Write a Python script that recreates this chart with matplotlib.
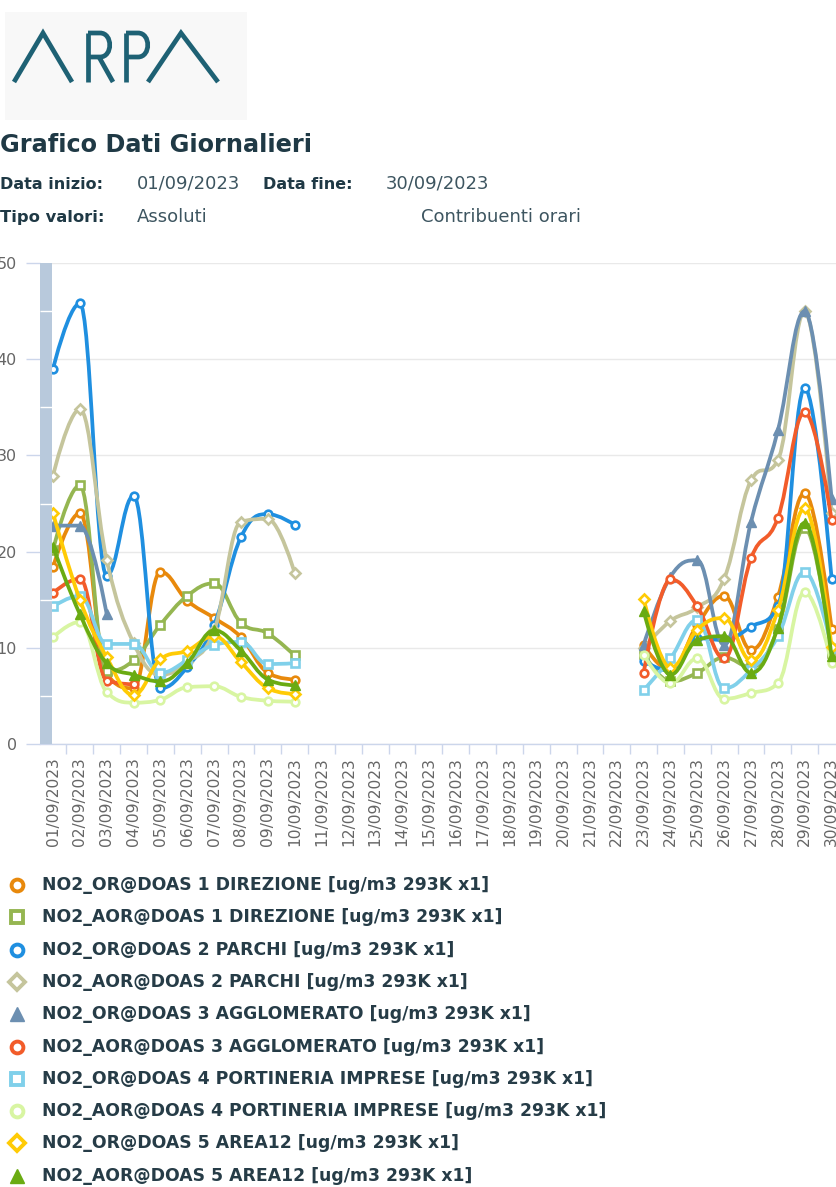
import matplotlib
matplotlib.use("Agg")
import matplotlib.pyplot as plt
import numpy as np
from matplotlib.path import Path
from matplotlib.patches import PathPatch, Rectangle

plt.rcParams['font.family'] = ['DejaVu Sans']

N = None
days = [f"{d:02d}/09/2023" for d in range(1, 31)]
gap = [N] * 12

no2_or_doas1 = [18.4, 24.0, 7.3, 5.8, 17.9, 14.9, 13.1, 11.1, 7.4, 6.7] + gap + [10.3, 7.6, 12.4, 15.4, 9.8, 15.3, 26.1, 12.0]
no2_aor_doas1 = [20.2, 26.9, 7.6, 8.7, 12.4, 15.4, 16.7, 12.6, 11.5, 9.2] + gap + [9.4, 6.5, 7.4, 9.0, 8.0, 12.0, 22.5, 9.5]
no2_or_doas2 = [39.0, 45.8, 17.5, 25.8, 5.8, 8.0, 12.4, 21.5, 23.9, 22.8] + gap + [8.6, 7.6, 11.0, 10.8, 12.2, 14.3, 37.0, 17.2]
no2_aor_doas2 = [27.9, 34.8, 19.1, 10.5, 7.2, 8.5, 11.8, 23.1, 23.4, 17.8] + gap + [10.0, 12.8, 14.2, 17.2, 27.4, 29.5, 45.0, 24.0]
no2_or_doas3 = [22.7, 22.7, 13.5, N, N, N, N, N, N, N] + gap + [10.3, 17.4, 19.1, 10.3, 23.1, 32.6, 45.0, 25.5]
no2_aor_doas3 = [15.7, 17.2, 6.6, 6.2, N, N, N, N, N, N] + gap + [7.4, 17.1, 14.3, 8.9, 19.3, 23.5, 34.5, 23.3]
no2_or_doas4 = [14.3, 15.4, 10.4, 10.4, 7.4, 8.7, 10.3, 10.6, 8.3, 8.4] + gap + [5.6, 8.9, 12.9, 5.8, 7.7, 11.2, 17.9, 10.0]
no2_aor_doas4 = [11.1, 12.7, 5.4, 4.3, 4.6, 5.9, 6.0, 4.9, 4.5, 4.4] + gap + [9.3, 6.3, 8.9, 4.7, 5.3, 6.3, 15.8, 8.4]
no2_or_doas5 = [24.0, 15.0, 9.0, 5.1, 8.8, 9.7, 11.2, 8.5, 5.8, 5.2] + gap + [15.1, 7.9, 11.9, 13.1, 8.7, 13.9, 24.5, 10.1]
no2_aor_doas5 = [20.5, 13.5, 8.4, 7.2, 6.5, 8.4, 11.8, 9.7, 6.7, 6.1] + gap + [13.8, 7.2, 10.8, 11.2, 7.4, 12.1, 23.0, 9.1]

series_names = [
    "NO2_OR@DOAS 1 DIREZIONE [ug/m3 293K x1]",
    "NO2_AOR@DOAS 1 DIREZIONE [ug/m3 293K x1]",
    "NO2_OR@DOAS 2 PARCHI [ug/m3 293K x1]",
    "NO2_AOR@DOAS 2 PARCHI [ug/m3 293K x1]",
    "NO2_OR@DOAS 3 AGGLOMERATO [ug/m3 293K x1]",
    "NO2_AOR@DOAS 3 AGGLOMERATO [ug/m3 293K x1]",
    "NO2_OR@DOAS 4 PORTINERIA IMPRESE [ug/m3 293K x1]",
    "NO2_AOR@DOAS 4 PORTINERIA IMPRESE [ug/m3 293K x1]",
    "NO2_OR@DOAS 5 AREA12 [ug/m3 293K x1]",
    "NO2_AOR@DOAS 5 AREA12 [ug/m3 293K x1]",
]
series_values = [no2_or_doas1, no2_aor_doas1, no2_or_doas2, no2_aor_doas2, no2_or_doas3,
                 no2_aor_doas3, no2_or_doas4, no2_aor_doas4, no2_or_doas5, no2_aor_doas5]
colors = ['#e8890c', '#95b651', '#1f8fe0', '#c5c59c', '#6c8fb1',
          '#f25c2a', '#80d0ea', '#d8f5a2', '#ffcb05', '#6aab12']
markers = ['o', 's', 'o', 'D', '^', 'o', 's', 'o', 'D', '^']
filled = [False, False, False, False, True, False, False, False, False, True]

y_ticks = [0, 10, 20, 30, 40, 50]


def spline_path(pts, smoothing=1.5):
    n = len(pts)
    left = [None] * n
    right = [None] * n
    den = smoothing + 1
    for i in range(1, n - 1):
        px, py = pts[i]
        lx, ly = pts[i - 1]
        nx, ny = pts[i + 1]
        lcx = (smoothing * px + lx) / den
        lcy = (smoothing * py + ly) / den
        rcx = (smoothing * px + nx) / den
        rcy = (smoothing * py + ny) / den
        corr = 0.0
        if rcx != lcx:
            corr = ((rcy - lcy) * (rcx - px)) / (rcx - lcx) + py - rcy
        lcy += corr
        rcy += corr
        if lcy > ly and lcy > py:
            lcy = max(ly, py); rcy = 2 * py - lcy
        elif lcy < ly and lcy < py:
            lcy = min(ly, py); rcy = 2 * py - lcy
        if rcy > ny and rcy > py:
            rcy = max(ny, py); lcy = 2 * py - rcy
        elif rcy < ny and rcy < py:
            rcy = min(ny, py); lcy = 2 * py - rcy
        left[i] = (lcx, lcy)
        right[i] = (rcx, rcy)
    verts = [pts[0]]
    codes = [Path.MOVETO]
    for i in range(1, n):
        c1 = right[i - 1] if right[i - 1] is not None else pts[i - 1]
        c2 = left[i] if left[i] is not None else pts[i]
        verts += [c1, c2, pts[i]]
        codes += [Path.CURVE4] * 3
    return Path(verts, codes)


W, H = 836, 1187
fig = plt.figure(figsize=(W / 100, H / 100), dpi=100)
fig.patch.set_facecolor('white')

# overlay in pixel coordinates for header / legend
ov = fig.add_axes([0, 0, 1, 1])
ov.set_xlim(0, W)
ov.set_ylim(H, 0)
ov.axis('off')

# logo
ov.add_patch(Rectangle((5, 12), 242, 108, facecolor='#f8f8f8', edgecolor='none'))
lc = '#1e6174'
lw_logo = 3.4
ov.plot([14, 43, 72], [82, 33, 82], color=lc, lw=lw_logo, solid_joinstyle='miter', solid_capstyle='butt')
ov.plot([88, 88], [82, 33], color=lc, lw=lw_logo, solid_capstyle='butt')
r_bowl = Path([(88, 33), (100, 33), (113, 33), (113, 57), (100, 57), (88, 57)],
              [Path.MOVETO, Path.LINETO, Path.CURVE4, Path.CURVE4, Path.CURVE4, Path.LINETO])
ov.add_patch(PathPatch(r_bowl, fill=False, edgecolor=lc, lw=lw_logo))
ov.plot([99, 113], [57, 82], color=lc, lw=lw_logo, solid_capstyle='butt')
ov.plot([126, 126], [82, 33], color=lc, lw=lw_logo, solid_capstyle='butt')
p_bowl = Path([(126, 33), (138, 33), (151, 33), (151, 57), (138, 57), (126, 57)],
              [Path.MOVETO, Path.LINETO, Path.CURVE4, Path.CURVE4, Path.CURVE4, Path.LINETO])
ov.add_patch(PathPatch(p_bowl, fill=False, edgecolor=lc, lw=lw_logo))
ov.plot([148, 181, 218], [82, 33, 82], color=lc, lw=lw_logo, solid_joinstyle='miter', solid_capstyle='butt')

# header
hdr = '#1f3945'
val = '#3d5560'
ov.text(0, 152, "Grafico Dati Giornalieri", fontsize=17.3, fontweight='bold', color=hdr, va='baseline')
ov.text(0, 189, "Data inizio:", fontsize=11.5, fontweight='bold', color=hdr, va='baseline')
ov.text(137, 189, "01/09/2023", fontsize=13, color=val, va='baseline')
ov.text(263, 189, "Data fine:", fontsize=11.5, fontweight='bold', color=hdr, va='baseline')
ov.text(386, 189, "30/09/2023", fontsize=13, color=val, va='baseline')
ov.text(0, 222, "Tipo valori:", fontsize=11.8, fontweight='bold', color=hdr, va='baseline')
ov.text(137, 222, "Assoluti", fontsize=13, color=val, va='baseline')
ov.text(421, 222, "Contribuenti orari", fontsize=13, color=val, va='baseline')

# legend
leg_y0, leg_dy = 885, 32.3
for i, name in enumerate(series_names):
    yy = leg_y0 + i * leg_dy
    if filled[i]:
        ov.plot([17], [yy], marker=markers[i], ms=10, color=colors[i], mec=colors[i], ls='none')
    else:
        ms = 8.5 if markers[i] != 'D' else 8
        ov.plot([17], [yy], marker=markers[i], ms=ms, mfc='white', mec=colors[i], mew=2.8, ls='none')
    ov.text(42, yy, name, fontsize=12.4, fontweight='bold', color='#263c47', va='center')

# main chart
left_px, right_px, top_px, bot_px = 39.6, 845.0, 263.0, 744.0
ax = fig.add_axes([left_px / W, 1 - bot_px / H, (right_px - left_px) / W, (bot_px - top_px) / H])
ax.set_xlim(-0.5, 29.5)
ax.set_ylim(0, 50)
ax.patch.set_alpha(0)

for s in ['top', 'right', 'left']:
    ax.spines[s].set_visible(False)
ax.spines['bottom'].set_color('#ccd6eb')
ax.spines['bottom'].set_linewidth(1)

ax.set_yticks(y_ticks)
ax.set_yticklabels([str(v) for v in y_ticks])
ax.yaxis.grid(True, color='#e9e9e9', lw=1)
ax.set_axisbelow(True)
ax.tick_params(axis='y', length=9.8, width=1, color='#ccd6eb', labelcolor='#666666', labelsize=11.5, pad=6.5)

x = np.arange(len(days))
ax.set_xticks(x)
ax.set_xticklabels(days, rotation=90, fontsize=11.2, color='#666666')
ax.tick_params(axis='x', which='major', length=0, pad=9.5)
ax.set_xticks(np.arange(0.5, 29.5, 1), minor=True)
ax.tick_params(axis='x', which='minor', length=7, width=1, color='#ccd6eb')

for i, vals in enumerate(series_values):
    segs, cur = [], []
    for xi, v in zip(x, vals):
        if v is None:
            if cur:
                segs.append(cur)
            cur = []
        else:
            cur.append((float(xi), float(v)))
    if cur:
        segs.append(cur)
    for seg in segs:
        if len(seg) > 1:
            ax.add_patch(PathPatch(spline_path(seg), fill=False, edgecolor=colors[i], lw=2.7,
                                   capstyle='round', joinstyle='round', zorder=3 + i * 0.1))
    xs = [p[0] for s in segs for p in s]
    ys = [p[1] for s in segs for p in s]
    if filled[i]:
        ax.plot(xs, ys, ls='none', marker=markers[i], ms=7, color=colors[i], zorder=3.05 + i * 0.1)
    else:
        ax.plot(xs, ys, ls='none', marker=markers[i], ms=5.5, mfc='white', mec=colors[i], mew=1.9,
                zorder=3.05 + i * 0.1)

# navigator-like band on the left
ax.add_patch(Rectangle((-0.5, 0), 0.46, 50, facecolor='#b8c9dc', edgecolor='none', zorder=10))
ax.hlines([5, 15, 25, 35, 45], -0.5, -0.04, colors='white', lw=1, zorder=11)

fig.savefig('out.png', dpi=100, facecolor='white')
